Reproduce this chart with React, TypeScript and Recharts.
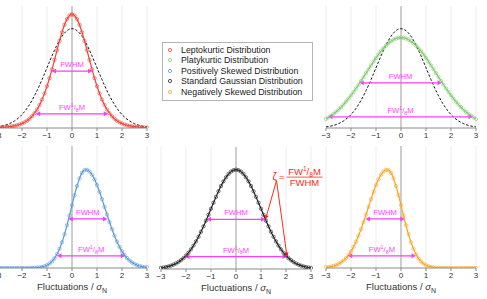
import React from 'react';
import {
  ComposedChart,
  Line,
  XAxis,
  YAxis,
  CartesianGrid,
  ReferenceLine,
  ReferenceDot,
} from 'recharts';

const xValues = [
  -3.0, -2.9, -2.8, -2.7, -2.6, -2.5, -2.4, -2.3, -2.2, -2.1, -2.0, -1.9, -1.8, -1.7, -1.6, -1.5,
  -1.4, -1.3, -1.2, -1.1, -1.0, -0.9, -0.8, -0.7, -0.6, -0.5, -0.4, -0.3, -0.2, -0.1, 0.0, 0.1,
  0.2, 0.3, 0.4, 0.5, 0.6, 0.7, 0.8, 0.9, 1.0, 1.1, 1.2, 1.3, 1.4, 1.5, 1.6, 1.7, 1.8, 1.9, 2.0,
  2.1, 2.2, 2.3, 2.4, 2.5, 2.6, 2.7, 2.8, 2.9, 3.0,
];

const gaussian = [
  0.0044, 0.006, 0.0079, 0.0104, 0.0136, 0.0175, 0.0224, 0.0283, 0.0355, 0.044, 0.054, 0.0656,
  0.079, 0.094, 0.1109, 0.1295, 0.1497, 0.1714, 0.1942, 0.2179, 0.242, 0.2661, 0.2897, 0.3123,
  0.3332, 0.3521, 0.3683, 0.3814, 0.391, 0.397, 0.3989, 0.397, 0.391, 0.3814, 0.3683, 0.3521,
  0.3332, 0.3123, 0.2897, 0.2661, 0.242, 0.2179, 0.1942, 0.1714, 0.1497, 0.1295, 0.1109, 0.094,
  0.079, 0.0656, 0.054, 0.044, 0.0355, 0.0283, 0.0224, 0.0175, 0.0136, 0.0104, 0.0079, 0.006,
  0.0044,
];

const leptokurtic = [
  0.0016, 0.002, 0.0026, 0.0033, 0.0042, 0.0053, 0.0068, 0.0087, 0.0111, 0.0142, 0.0181, 0.0231,
  0.0294, 0.0373, 0.0472, 0.0594, 0.0743, 0.0923, 0.1138, 0.139, 0.1679, 0.2003, 0.2358, 0.2735,
  0.3119, 0.3496, 0.3844, 0.4144, 0.4374, 0.452, 0.457, 0.452, 0.4374, 0.4144, 0.3844, 0.3496,
  0.3119, 0.2735, 0.2358, 0.2003, 0.1679, 0.139, 0.1138, 0.0923, 0.0743, 0.0594, 0.0472, 0.0373,
  0.0294, 0.0231, 0.0181, 0.0142, 0.0111, 0.0087, 0.0068, 0.0053, 0.0042, 0.0033, 0.0026, 0.002,
  0.0016,
];

const platykurtic = [
  0.0365, 0.0425, 0.0491, 0.0565, 0.0647, 0.0737, 0.0835, 0.0941, 0.1056, 0.1179, 0.1309, 0.1446,
  0.1589, 0.1737, 0.189, 0.2045, 0.2202, 0.2358, 0.2513, 0.2665, 0.2813, 0.2954, 0.3083, 0.3203,
  0.3312, 0.3406, 0.3485, 0.3548, 0.3593, 0.3621, 0.363, 0.3621, 0.3593, 0.3548, 0.3485, 0.3406,
  0.3312, 0.3203, 0.3083, 0.2954, 0.2813, 0.2665, 0.2513, 0.2358, 0.2202, 0.2045, 0.189, 0.1737,
  0.1589, 0.1446, 0.1309, 0.1179, 0.1056, 0.0941, 0.0835, 0.0737, 0.0647, 0.0565, 0.0491, 0.0425,
  0.0365,
];

const posSkewed = [
  0, 0, 0, 0, 0, 0, 0, 0, 0, 0, 0, 0.0001, 0.0001, 0.0002, 0.0004, 0.0008, 0.0014, 0.0024, 0.0042,
  0.0069, 0.0111, 0.0174, 0.0263, 0.0388, 0.0554, 0.0768, 0.1034, 0.1351, 0.1713, 0.2108, 0.2521,
  0.2925, 0.3293, 0.36, 0.382, 0.3935, 0.3942, 0.3876, 0.3747, 0.3562, 0.333, 0.306, 0.2766,
  0.2457, 0.2147, 0.1845, 0.1558, 0.1294, 0.1057, 0.0849, 0.067, 0.0521, 0.0398, 0.0299, 0.0221,
  0.016, 0.0114, 0.008, 0.0055, 0.0037, 0.0025,
];

const negSkewed = [
  0.0025, 0.0037, 0.0055, 0.008, 0.0114, 0.016, 0.0221, 0.0299, 0.0398, 0.0521, 0.067, 0.0849,
  0.1057, 0.1294, 0.1558, 0.1845, 0.2147, 0.2457, 0.2766, 0.306, 0.333, 0.3562, 0.3747, 0.3876,
  0.3942, 0.3935, 0.382, 0.36, 0.3293, 0.2925, 0.2521, 0.2108, 0.1713, 0.1351, 0.1034, 0.0768,
  0.0554, 0.0388, 0.0263, 0.0174, 0.0111, 0.0069, 0.0042, 0.0024, 0.0014, 0.0008, 0.0004, 0.0002,
  0.0001, 0.0001, 0, 0, 0, 0, 0, 0, 0, 0, 0, 0, 0,
];

const xTicks = [-3, -2, -1, 0, 1, 2, 3];

// [left end, right end, level] of the width arrows
const fwhmArrows: Record<string, number[]> = {
  lepto: [-0.82, 0.82, 0.2285],
  platy: [-1.67, 1.64, 0.1815],
  pos: [-0.15, 1.42, 0.197],
  gauss: [-1.18, 1.18, 0.1995],
  neg: [-1.42, 0.15, 0.197],
};
const fw8Arrows: Record<string, number[]> = {
  lepto: [-1.45, 1.45, 0.057],
  platy: [-2.92, 2.88, 0.045],
  pos: [-0.6, 2.13, 0.049],
  gauss: [-2.04, 2.04, 0.05],
  neg: [-2.13, 0.6, 0.049],
};

// zeta annotation: apex of the two red pointers
const zetaApex = [1.62, 0.355];

const legendItems = [
  { name: 'Leptokurtic Distribution', color: '#ee4336' },
  { name: 'Platykurtic Distribution', color: '#7fcb6c' },
  { name: 'Positively Skewed Distribution', color: '#5a9ad3' },
  { name: 'Standard Gaussian Distribution', color: '#222222' },
  { name: 'Negatively Skewed Distribution', color: '#f7a51f' },
];

const rows = xValues.map((x, i) => ({
  x,
  gauss: gaussian[i],
  lepto: leptokurtic[i],
  platy: platykurtic[i],
  pos: posSkewed[i],
  neg: negSkewed[i],
}));

const FONT = '"Liberation Sans", Arial, Helvetica, sans-serif';
const MAGENTA = '#ff3dff';
const ZETA_RED = '#ff2b1c';

const fmtTick = (v: number) => (v < 0 ? '\u2212' + Math.abs(v) : String(v));

function headPoints(tx: number, ty: number, fx: number, fy: number, size: number) {
  const dx = tx - fx;
  const dy = ty - fy;
  const len = Math.hypot(dx, dy) || 1;
  const ux = dx / len;
  const uy = dy / len;
  const bx = tx - ux * size;
  const by = ty - uy * size;
  const w = size * 0.55;
  return `${tx},${ty} ${bx - uy * w},${by + ux * w} ${bx + uy * w},${by - ux * w}`;
}

function Fw8Text({ x, y, size, fill, anchor = 'middle' }: any) {
  const small = size * 0.7;
  return (
    <text x={x} y={y} textAnchor={anchor} fontSize={size} fill={fill} fontFamily={FONT}>
      <tspan>FW</tspan>
      <tspan fontSize={small} dy={-size * 0.35}>1</tspan>
      <tspan dy={size * 0.35}>/</tspan>
      <tspan fontSize={small} dy={size * 0.25}>8</tspan>
      <tspan dy={-size * 0.25}>M</tspan>
    </text>
  );
}

const widthArrow = (kind: 'fwhm' | 'fw8') => (p: any) => {
  const { x1, y1, x2, y2 } = p;
  const tx = (x1 + x2) / 2;
  const ty = y1 - 4;
  return (
    <g>
      <line x1={x1 + 2} y1={y1} x2={x2 - 2} y2={y2} stroke={MAGENTA} strokeWidth={1.3} />
      <polygon points={headPoints(x1, y1, x2, y2, 4.5)} fill={MAGENTA} />
      <polygon points={headPoints(x2, y2, x1, y1, 4.5)} fill={MAGENTA} />
      {kind === 'fwhm' ? (
        <text x={tx} y={ty} textAnchor="middle" fontSize={7.6} fill={MAGENTA} fontFamily={FONT}>
          FWHM
        </text>
      ) : (
        <Fw8Text x={tx} y={ty} size={7.6} fill={MAGENTA} />
      )}
    </g>
  );
};

const pointer = (p: any) => {
  const { x1, y1, x2, y2 } = p;
  return (
    <g>
      <line x1={x1} y1={y1} x2={x2} y2={y2} stroke={ZETA_RED} strokeWidth={1} />
      <polygon points={headPoints(x2, y2, x1, y1, 4)} fill={ZETA_RED} />
    </g>
  );
};

const zetaText = (p: any) => {
  const { cx, cy } = p;
  return (
    <g fontFamily={FONT} fill={ZETA_RED}>
      <text x={cx - 4} y={cy - 1} fontSize={10}>
        ζ
      </text>
      <text x={cx + 2.5} y={cy - 1} fontSize={9.5}>
        =
      </text>
      <Fw8Text x={cx + 28} y={cy - 6} size={9.5} fill={ZETA_RED} />
      <line x1={cx + 10} y1={cy - 3.5} x2={cx + 46} y2={cy - 3.5} stroke={ZETA_RED} strokeWidth={0.8} />
      <text x={cx + 28} y={cy + 5} textAnchor="middle" fontSize={9.5}>
        FWHM
      </text>
    </g>
  );
};

const axisTitle = ({ viewBox }: any) => {
  const cx = viewBox.x + viewBox.width / 2;
  const y = viewBox.y + 22;
  return (
    <text x={cx} y={y} textAnchor="middle" fontSize={9.5} fill="#333" fontFamily={FONT}>
      <tspan>Fluctuations / </tspan>
      <tspan fontStyle="italic">σ</tspan>
      <tspan fontSize={7} dy={2.5}>N</tspan>
    </text>
  );
};

interface PanelProps {
  left: number;
  top: number;
  dataKey: string;
  color: string;
  showGaussian?: boolean;
  xLabel?: boolean;
  zeta?: boolean;
}

function Panel({ left, top, dataKey, color, showGaussian = false, xLabel = false, zeta = false }: PanelProps) {
  const axisHeight = xLabel ? 40 : 25;
  const width = zeta ? 190 : 170;
  const fwhm = fwhmArrows[dataKey];
  const fw8 = fw8Arrows[dataKey];
  return (
    <div style={{ position: 'absolute', left, top }}>
      <ComposedChart
        width={width}
        height={122 + axisHeight}
        data={rows}
        margin={{ top: 0, right: width - 160, bottom: 0, left: 10 }}
      >
        <CartesianGrid horizontal={false} stroke="#e9e9e9" strokeWidth={0.8} />
        <XAxis
          dataKey="x"
          type="number"
          domain={[-3, 3]}
          ticks={xTicks}
          tickFormatter={fmtTick}
          height={axisHeight}
          interval={0}
          tick={{ fontSize: 8, fill: '#333', fontFamily: FONT }}
          tickSize={3}
          tickMargin={1}
          axisLine={{ stroke: '#8a8a8a' }}
          tickLine={{ stroke: '#8a8a8a' }}
          label={xLabel ? { content: axisTitle } : undefined}
        />
        <YAxis hide type="number" domain={[0, 0.49]} allowDataOverflow />
        <ReferenceLine x={0} stroke="#9c9c9c" strokeWidth={0.9} />
        {showGaussian && (
          <Line
            type="monotone"
            dataKey="gauss"
            stroke="#111"
            strokeWidth={1}
            strokeDasharray="2.5 1.8"
            dot={false}
            isAnimationActive={false}
          />
        )}
        <Line
          type="monotone"
          dataKey={dataKey}
          stroke={color}
          strokeWidth={1.2}
          dot={{ r: 1.7, stroke: color, strokeWidth: 0.8, fill: 'none', strokeOpacity: 0.75 }}
          isAnimationActive={false}
        />
        <ReferenceLine
          segment={[{ x: fwhm[0], y: fwhm[2] }, { x: fwhm[1], y: fwhm[2] }]}
          ifOverflow="visible"
          shape={widthArrow('fwhm')}
        />
        <ReferenceLine
          segment={[{ x: fw8[0], y: fw8[2] }, { x: fw8[1], y: fw8[2] }]}
          ifOverflow="visible"
          shape={widthArrow('fw8')}
        />
        {zeta && (
          <ReferenceLine
            segment={[{ x: zetaApex[0], y: zetaApex[1] }, { x: fwhm[1], y: fwhm[2] }]}
            ifOverflow="visible"
            shape={pointer}
          />
        )}
        {zeta && (
          <ReferenceLine
            segment={[{ x: zetaApex[0], y: zetaApex[1] }, { x: fw8[1], y: fw8[2] }]}
            ifOverflow="visible"
            shape={pointer}
          />
        )}
        {zeta && (
          <ReferenceDot x={zetaApex[0]} y={zetaApex[1]} r={0} ifOverflow="visible" shape={zetaText} />
        )}
      </ComposedChart>
    </div>
  );
}

function Legend() {
  return (
    <div
      style={{
        position: 'absolute',
        left: 162,
        top: 42,
        width: 149,
        height: 55,
        border: '1px solid #b5b5b5',
        background: '#fff',
        fontFamily: FONT,
        fontSize: 8.8,
        color: '#222',
        paddingTop: 1.5,
        boxSizing: 'content-box',
      }}
    >
      {legendItems.map((item) => (
        <div key={item.name} style={{ height: 10.5, lineHeight: '10.5px', display: 'flex', alignItems: 'center' }}>
          <svg width={16} height={10} style={{ marginLeft: 2 }}>
            <circle cx={5} cy={5} r={1.6} fill="none" stroke={item.color} strokeWidth={0.8} />
          </svg>
          <span>{item.name}</span>
        </div>
      ))}
    </div>
  );
}

export default function App() {
  return (
    <div style={{ position: 'absolute', left: 0, top: 0, width: 487, height: 299, overflow: 'hidden', background: '#fff' }}>
      <Panel left={-13} top={6} dataKey="lepto" color={legendItems[0].color} showGaussian />
      <Panel left={316} top={6} dataKey="platy" color={legendItems[1].color} showGaussian />
      <Panel left={-13} top={146} dataKey="pos" color={legendItems[2].color} xLabel />
      <Panel left={151} top={147} dataKey="gauss" color={legendItems[3].color} xLabel zeta />
      <Panel left={316} top={146} dataKey="neg" color={legendItems[4].color} xLabel />
      <Legend />
    </div>
  );
}
